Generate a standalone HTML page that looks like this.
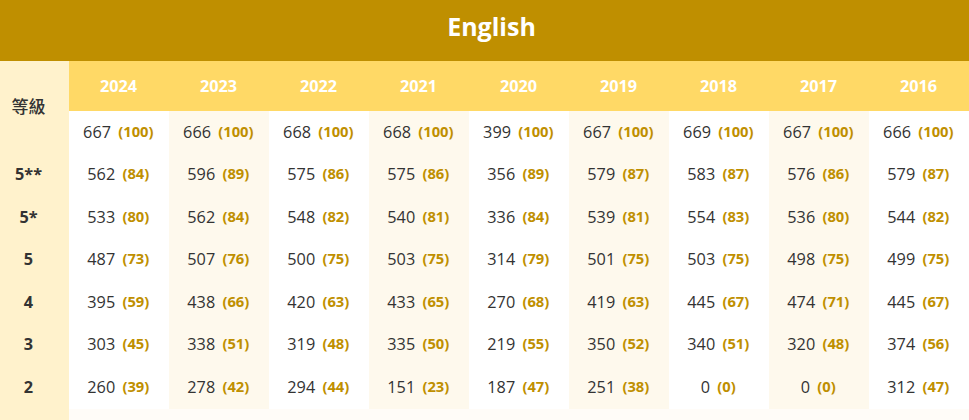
<!DOCTYPE html>
<html><head><meta charset="utf-8"><style>
*{margin:0;padding:0;box-sizing:border-box}
html,body{width:969px;height:420px;overflow:hidden;background:#fffcf8}
body{position:relative;font-family:"Open Sans","Liberation Sans",sans-serif;}
.hdr{position:absolute;left:0;top:0;width:969px;height:61px;background:#bf8f00}
.title{position:absolute;left:391.5px;width:200px;top:-4px;text-align:center;color:#fff;font-weight:700;font-size:25px;line-height:61px}
.lc{position:absolute;left:0;top:61px;width:69px;height:359px;background:#fff2cc}
.yr{position:absolute;left:69px;top:61px;width:900px;height:50px;background:#ffd966}
.col{position:absolute;top:111px;width:100px;height:298px;background:#fff}
.col.a{background:#fef9ed}
.y{position:absolute;width:100px;margin-top:0px;margin-left:-0.5px;text-align:center;color:#fff;font-weight:700;font-size:16.25px;top:61px;line-height:50px}
.c{position:absolute;width:100px;margin-top:-0.4px;margin-left:-0.7px;text-align:center;color:#333333;font-size:16.25px;line-height:42.5px;white-space:nowrap}
.c b{color:#bf8f00;font-size:14.75px;font-weight:700;letter-spacing:0px;margin-left:3px;position:relative;top:-1px;}
.l{position:absolute;left:0;margin-top:-0.4px;margin-left:0px;width:57px;text-align:center;color:#333;font-weight:700;font-size:16.25px;line-height:42.5px}
.g{position:absolute;left:0;width:57px;text-align:center;color:#333;font-weight:500;font-size:17px;font-family:"Liberation Sans","Noto Sans CJK TC",sans-serif}
</style></head><body>
<div class="hdr"></div><div class="title">English</div>
<div class="lc"></div><div class="yr"></div>
<div class="col" style="left:69px"></div>
<div class="col a" style="left:169px"></div>
<div class="col" style="left:269px"></div>
<div class="col a" style="left:369px"></div>
<div class="col" style="left:469px"></div>
<div class="col a" style="left:569px"></div>
<div class="col" style="left:669px"></div>
<div class="col a" style="left:769px"></div>
<div class="col" style="left:869px"></div>
<div class="y" style="left:69px">2024</div>
<div class="y" style="left:169px">2023</div>
<div class="y" style="left:269px">2022</div>
<div class="y" style="left:369px">2021</div>
<div class="y" style="left:469px">2020</div>
<div class="y" style="left:569px">2019</div>
<div class="y" style="left:669px">2018</div>
<div class="y" style="left:769px">2017</div>
<div class="y" style="left:869px">2016</div>
<div class="g" style="top:98.6px;line-height:18px">等級</div>
<div class="c" style="left:69px;top:111.000px">667 <b>(100)</b></div>
<div class="c" style="left:169px;top:111.000px">666 <b>(100)</b></div>
<div class="c" style="left:269px;top:111.000px">668 <b>(100)</b></div>
<div class="c" style="left:369px;top:111.000px">668 <b>(100)</b></div>
<div class="c" style="left:469px;top:111.000px">399 <b>(100)</b></div>
<div class="c" style="left:569px;top:111.000px">667 <b>(100)</b></div>
<div class="c" style="left:669px;top:111.000px">669 <b>(100)</b></div>
<div class="c" style="left:769px;top:111.000px">667 <b>(100)</b></div>
<div class="c" style="left:869px;top:111.000px">666 <b>(100)</b></div>
<div class="l" style="top:153.500px">5**</div>
<div class="c" style="left:69px;top:153.500px">562 <b>(84)</b></div>
<div class="c" style="left:169px;top:153.500px">596 <b>(89)</b></div>
<div class="c" style="left:269px;top:153.500px">575 <b>(86)</b></div>
<div class="c" style="left:369px;top:153.500px">575 <b>(86)</b></div>
<div class="c" style="left:469px;top:153.500px">356 <b>(89)</b></div>
<div class="c" style="left:569px;top:153.500px">579 <b>(87)</b></div>
<div class="c" style="left:669px;top:153.500px">583 <b>(87)</b></div>
<div class="c" style="left:769px;top:153.500px">576 <b>(86)</b></div>
<div class="c" style="left:869px;top:153.500px">579 <b>(87)</b></div>
<div class="l" style="top:196.000px">5*</div>
<div class="c" style="left:69px;top:196.000px">533 <b>(80)</b></div>
<div class="c" style="left:169px;top:196.000px">562 <b>(84)</b></div>
<div class="c" style="left:269px;top:196.000px">548 <b>(82)</b></div>
<div class="c" style="left:369px;top:196.000px">540 <b>(81)</b></div>
<div class="c" style="left:469px;top:196.000px">336 <b>(84)</b></div>
<div class="c" style="left:569px;top:196.000px">539 <b>(81)</b></div>
<div class="c" style="left:669px;top:196.000px">554 <b>(83)</b></div>
<div class="c" style="left:769px;top:196.000px">536 <b>(80)</b></div>
<div class="c" style="left:869px;top:196.000px">544 <b>(82)</b></div>
<div class="l" style="top:238.500px">5</div>
<div class="c" style="left:69px;top:238.500px">487 <b>(73)</b></div>
<div class="c" style="left:169px;top:238.500px">507 <b>(76)</b></div>
<div class="c" style="left:269px;top:238.500px">500 <b>(75)</b></div>
<div class="c" style="left:369px;top:238.500px">503 <b>(75)</b></div>
<div class="c" style="left:469px;top:238.500px">314 <b>(79)</b></div>
<div class="c" style="left:569px;top:238.500px">501 <b>(75)</b></div>
<div class="c" style="left:669px;top:238.500px">503 <b>(75)</b></div>
<div class="c" style="left:769px;top:238.500px">498 <b>(75)</b></div>
<div class="c" style="left:869px;top:238.500px">499 <b>(75)</b></div>
<div class="l" style="top:281.000px">4</div>
<div class="c" style="left:69px;top:281.000px">395 <b>(59)</b></div>
<div class="c" style="left:169px;top:281.000px">438 <b>(66)</b></div>
<div class="c" style="left:269px;top:281.000px">420 <b>(63)</b></div>
<div class="c" style="left:369px;top:281.000px">433 <b>(65)</b></div>
<div class="c" style="left:469px;top:281.000px">270 <b>(68)</b></div>
<div class="c" style="left:569px;top:281.000px">419 <b>(63)</b></div>
<div class="c" style="left:669px;top:281.000px">445 <b>(67)</b></div>
<div class="c" style="left:769px;top:281.000px">474 <b>(71)</b></div>
<div class="c" style="left:869px;top:281.000px">445 <b>(67)</b></div>
<div class="l" style="top:323.500px">3</div>
<div class="c" style="left:69px;top:323.500px">303 <b>(45)</b></div>
<div class="c" style="left:169px;top:323.500px">338 <b>(51)</b></div>
<div class="c" style="left:269px;top:323.500px">319 <b>(48)</b></div>
<div class="c" style="left:369px;top:323.500px">335 <b>(50)</b></div>
<div class="c" style="left:469px;top:323.500px">219 <b>(55)</b></div>
<div class="c" style="left:569px;top:323.500px">350 <b>(52)</b></div>
<div class="c" style="left:669px;top:323.500px">340 <b>(51)</b></div>
<div class="c" style="left:769px;top:323.500px">320 <b>(48)</b></div>
<div class="c" style="left:869px;top:323.500px">374 <b>(56)</b></div>
<div class="l" style="top:366.000px">2</div>
<div class="c" style="left:69px;top:366.000px">260 <b>(39)</b></div>
<div class="c" style="left:169px;top:366.000px">278 <b>(42)</b></div>
<div class="c" style="left:269px;top:366.000px">294 <b>(44)</b></div>
<div class="c" style="left:369px;top:366.000px">151 <b>(23)</b></div>
<div class="c" style="left:469px;top:366.000px">187 <b>(47)</b></div>
<div class="c" style="left:569px;top:366.000px">251 <b>(38)</b></div>
<div class="c" style="left:669px;top:366.000px">0 <b>(0)</b></div>
<div class="c" style="left:769px;top:366.000px">0 <b>(0)</b></div>
<div class="c" style="left:869px;top:366.000px">312 <b>(47)</b></div>
</body></html>
